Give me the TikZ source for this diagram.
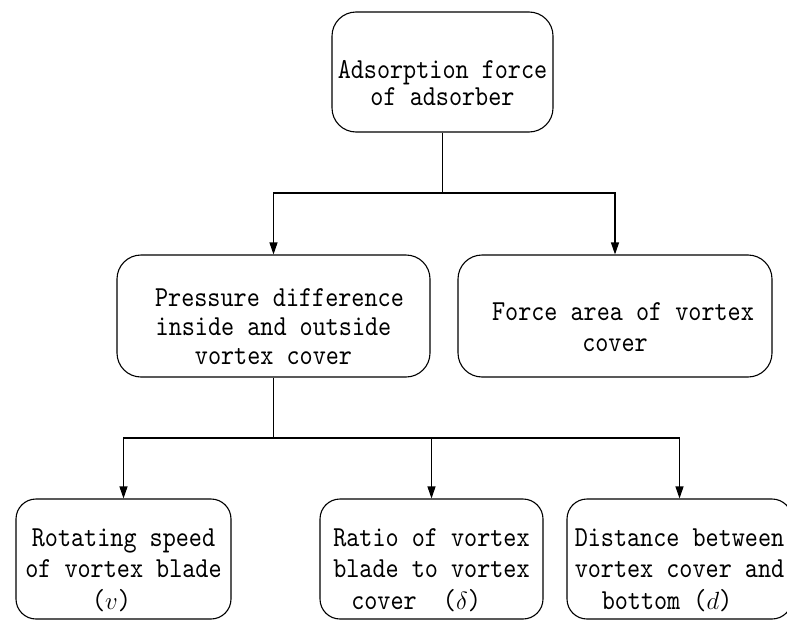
\documentclass[tikz,border=0pt]{standalone}
\usepackage{fontspec}
\newfontfamily\diagfont[FakeStretch=0.86]{lmmono10-regular.otf}
\newcommand\dnstrut{\rule{0pt}{40pt}}
\usetikzlibrary{arrows.meta}
\tikzset{
  box/.style={draw, line width=1.1pt, rounded corners=24pt, inner sep=0pt,
    font=\diagfont\fontsize{29}{30}\selectfont},
  arr/.style={line width=1.1pt, -{Triangle[length=12pt,width=8pt]}},
  ln/.style={line width=1.1pt}
}
\begin{document}
\begin{tikzpicture}[x=1pt,y=-1pt]
\useasboundingbox (0,0) rectangle (787,621);
\node[box, minimum width=221pt, minimum height=120pt, align=center,
  font=\diagfont\fontsize{29}{27}\selectfont] (top) at (442.5,72)
  {\dnstrut Adsorption force\\of adsorber};
\node[box, minimum width=313pt, minimum height=122pt, align=center,
  font=\diagfont\fontsize{29}{29}\selectfont] (b2) at (273.5,316)
  {\dnstrut\hspace*{12pt}Pressure difference\\inside and outside\\vortex cover};
\node[box, minimum width=314pt, minimum height=122pt, align=center,
  font=\diagfont\fontsize{29}{31}\selectfont] (b3) at (615,316)
  {\dnstrut\hspace*{16pt}Force area of vortex\\cover};
\node[box, minimum width=215pt, minimum height=120pt, align=center, rounded corners=20pt,
  font=\diagfont\fontsize{29}{31.5}\selectfont] (b4) at (123.5,559)
  {\dnstrut Rotating speed\\of vortex blade\\($v$)\hspace*{24pt}};
\node[box, minimum width=223pt, minimum height=120pt, align=left, rounded corners=20pt,
  font=\diagfont\fontsize{29}{31.5}\selectfont] (b5) at (431.5,559)
  {\dnstrut Ratio of vortex\\blade to vortex\\\hspace*{18pt}cover~~($\delta$)};
\node[box, minimum width=225pt, minimum height=120pt, align=left, rounded corners=20pt,
  font=\diagfont\fontsize{29}{31.5}\selectfont] (b6) at (679.5,559)
  {\dnstrut Distance between\\vortex cover and\\\hspace*{27pt}bottom ($d$)};
\coordinate (j1) at (442.5,193);
\coordinate (j2) at (273.5,438);
\draw[ln] (top.south) -- (j1);
\draw[arr] (j1) -| (b2.north);
\draw[arr] (j1) -| (b3.north);
\draw[ln] (b2.south) -- (j2);
\draw[arr] (j2) -| (b4.north);
\draw[arr] (j2) -| (b5.north);
\draw[arr] (j2) -| (b6.north);
\end{tikzpicture}
\end{document}
